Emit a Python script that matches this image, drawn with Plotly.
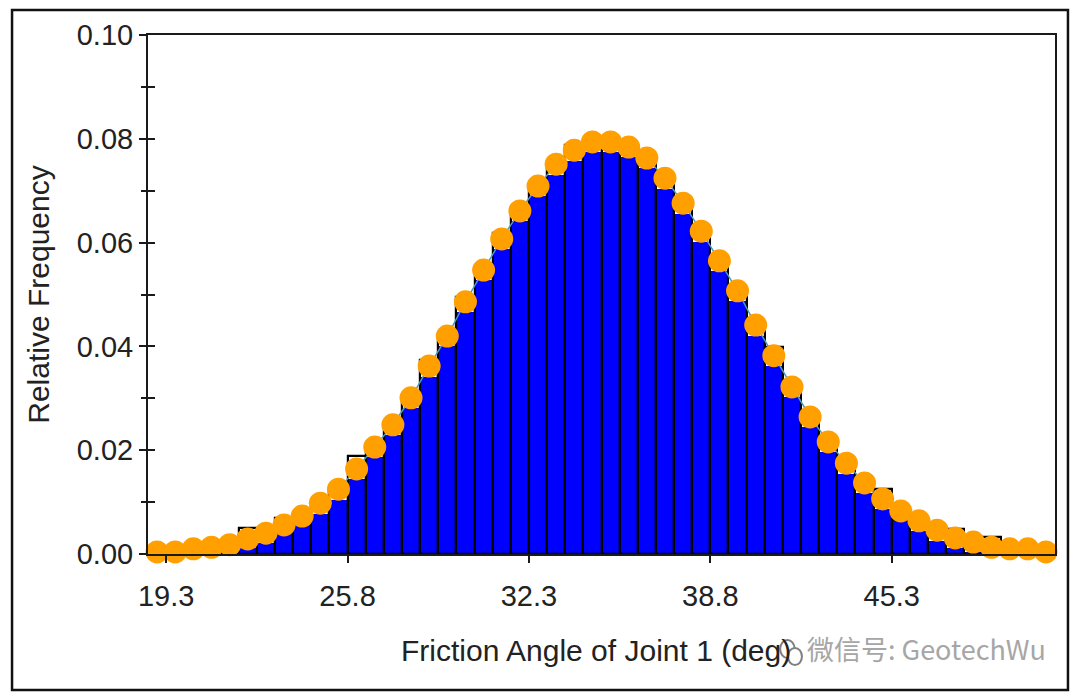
import plotly.graph_objects as go

# bin centres of the histogram (deg)
bin_centers = [18.975, 19.625, 20.275, 20.925, 21.575, 22.225, 22.875, 23.525, 24.175, 24.825,
               25.475, 26.125, 26.775, 27.425, 28.075, 28.725, 29.375, 30.025, 30.675, 31.325,
               31.975, 32.625, 33.275, 33.925, 34.575, 35.225, 35.875, 36.525, 37.175, 37.825,
               38.475, 39.125, 39.775, 40.425, 41.075, 41.725, 42.375, 43.025, 43.675, 44.325,
               44.975, 45.625, 46.275, 46.925, 47.575, 48.225, 48.875, 49.525, 50.175, 50.825]

# fitted curve (orange dots)
fit_freq = [.0004, .0004, .0010, .0013, .0018, .0029, .0040, .0056, .0073, .0098,
            .0125, .0164, .0206, .0249, .0301, .0362, .0420, .0486, .0547, .0607,
            .0661, .0709, .0751, .0778, .0794, .0794, .0784, .0763, .0724, .0676,
            .0622, .0565, .0507, .0441, .0382, .0322, .0264, .0216, .0175, .0137,
            .0106, .0083, .0064, .0046, .0031, .0023, .0013, .0010, .0010, .0004]

# histogram outline
hist_freq = [.0002, .0004, .0008, .0012, .0016, .0050, .0040, .0069, .0073, .0098,
             .0125, .0189, .0200, .0245, .0301, .0373, .0420, .0495, .0540, .0619,
             .0655, .0713, .0750, .0788, .0790, .0790, .0780, .0760, .0718, .0670,
             .0630, .0560, .0505, .0440, .0398, .0320, .0260, .0212, .0172, .0135,
             .0125, .0066, .0060, .0042, .0048, .0020, .0033, .0008, .0006, .0002]

# blue fill below the outline
fill_freq = [0, 0, 0, 0, 0, .0012, .0021, .0040, .0055, .0078,
             .0105, .0145, .0186, .0229, .0281, .0342, .0400, .0466, .0527, .0587,
             .0641, .0689, .0731, .0758, .0774, .0774, .0764, .0743, .0704, .0656,
             .0602, .0545, .0487, .0421, .0362, .0302, .0244, .0196, .0155, .0117,
             .0086, .0063, .0044, .0026, .0011, .0003, 0, 0, 0, 0]

x_ticks = [19.3, 25.8, 32.3, 38.8, 45.3]
x_labels = ['19.3', '25.8', '32.3', '38.8', '45.3']
y_labels = ['0.00', '0.02', '0.04', '0.06', '0.08', '0.10']
y_ticks = [0, .02, .04, .06, .08, .10]

FONT = dict(family='Liberation Sans, Arial, sans-serif', size=29, color='#222222')
TITLE_FONT = dict(family='Liberation Sans, Arial, sans-serif', size=30, color='#222222')
AXIS_COLOR = '#1a1a1a'

fig = go.Figure()
fig.add_trace(go.Bar(x=bin_centers, y=fill_freq, width=0.65,
                     marker=dict(color='#0000ff', line=dict(width=0))))
fig.add_trace(go.Bar(x=bin_centers, y=hist_freq, width=0.65,
                     marker=dict(color='rgba(0,0,0,0)', line=dict(color='#000000', width=2.2))))
fig.add_trace(go.Scatter(x=bin_centers, y=fit_freq, mode='lines+markers', cliponaxis=False,
                         line=dict(color='#4a9ac4', width=1.5),
                         marker=dict(color='#ff9f00', size=23, line=dict(width=0))))
# second y axis only to get the ticks crossing the axis line
fig.add_trace(go.Scatter(x=bin_centers[:1], y=fit_freq[:1], yaxis='y2', mode='markers',
                         marker=dict(opacity=0), hoverinfo='skip'))

# the page body adds 8px around the figure
fig.update_layout(
    width=1072, height=690,
    margin=dict(l=140, r=25, t=27, b=144, autoexpand=False),
    paper_bgcolor='white', plot_bgcolor='white',
    font=FONT, showlegend=False, barmode='overlay', bargap=0,
    xaxis=dict(range=[18.65, 51.15], tickmode='array', tickvals=x_ticks, ticktext=x_labels,
               ticks='outside', ticklen=7, tickwidth=2, tickcolor=AXIS_COLOR, ticklabelstandoff=8,
               showgrid=False, zeroline=False, showline=True, linecolor=AXIS_COLOR,
               linewidth=2, mirror=True),
    yaxis=dict(range=[0, .10], tickmode='array', tickvals=y_ticks, ticktext=y_labels,
               ticks='outside', ticklen=7, tickwidth=2, tickcolor=AXIS_COLOR,
               minor=dict(dtick=.01, ticks='outside', ticklen=5, tickwidth=2, tickcolor=AXIS_COLOR),
               showgrid=False, zeroline=False, showline=True, linecolor=AXIS_COLOR,
               linewidth=2, mirror=True,
               title=dict(text='Relative Frequency', standoff=18, font=TITLE_FONT)),
    yaxis2=dict(range=[0, .10], overlaying='y', side='left', dtick=.01, ticks='inside',
                ticklen=7, tickwidth=2, tickcolor=AXIS_COLOR, showticklabels=False,
                showgrid=False, zeroline=False, showline=False),
    # outer frame of the picture and the watermark logo
    shapes=[dict(type='rect', xref='paper', yref='paper',
                 x0=-0.1499, x1=1.0143, y0=-0.2620, y1=1.0482,
                 line=dict(color='#111111', width=2.5), layer='above'),
            dict(type='circle', xref='paper', yref='paper',
                 x0=0.697, x1=0.713, y0=-0.2004, y1=-0.1657,
                 line=dict(color='#808080', width=2), fillcolor='white', layer='above'),
            dict(type='circle', xref='paper', yref='paper',
                 x0=0.7056, x1=0.721, y0=-0.2139, y1=-0.181,
                 line=dict(color='#808080', width=2), fillcolor='white', layer='above')],
    annotations=[dict(text='Friction Angle of Joint 1 (deg)', xref='paper', yref='paper',
                      x=0.2767, y=-0.185, xanchor='left', yanchor='middle', showarrow=False,
                      font=TITLE_FONT),
                 dict(text='微信号: GeotechWu', xref='paper', yref='paper',
                      x=0.7240, y=-0.183, xanchor='left', yanchor='middle', showarrow=False,
                      font=dict(family='Noto Sans CJK SC, sans-serif', size=27, color='#a6a6a6'))],
)

fig.write_html("out.html")
